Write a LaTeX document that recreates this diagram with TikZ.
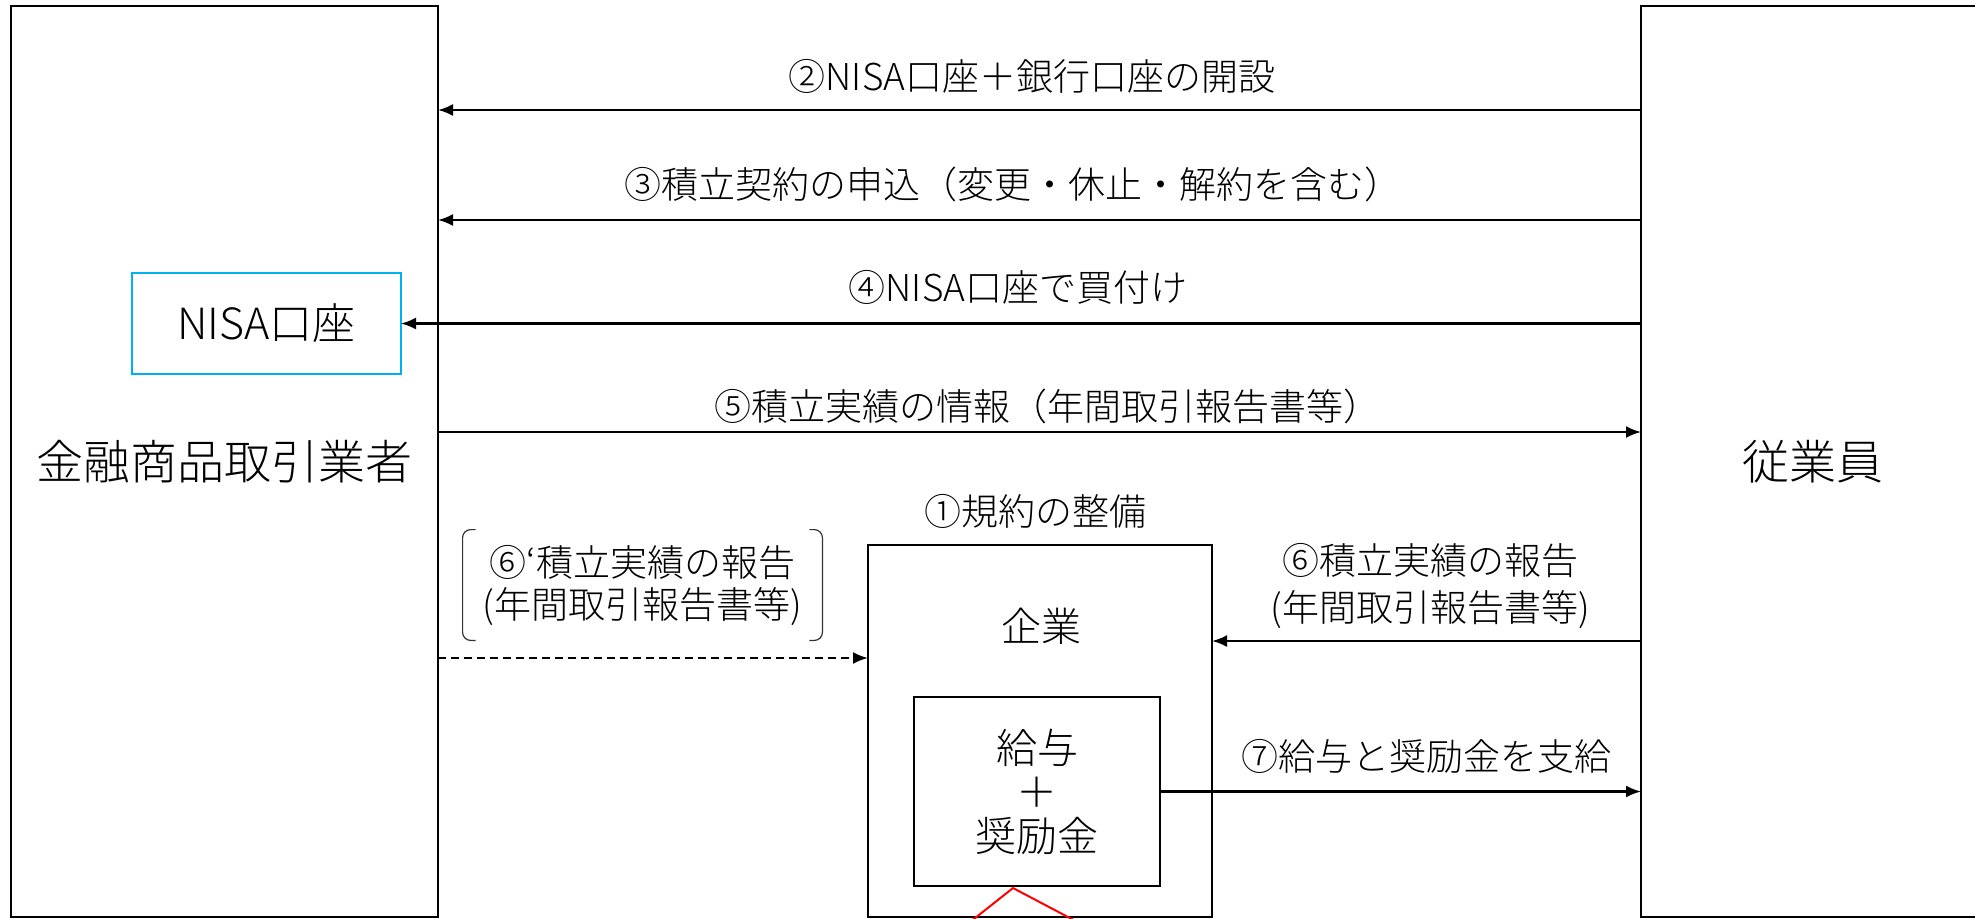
\documentclass[tikz,border=0pt]{standalone}
\usepackage{fontspec}
\setmainfont{Noto Sans CJK JP}[UprightFont=* Light]
\usetikzlibrary{arrows.meta,calc}
\definecolor{nisablue}{HTML}{00B0F0}
\tikzset{every picture/.style={x=0.5pt,y=-0.5pt}}
\tikzset{
  box/.style={draw=black, line width=1.1pt, inner sep=0pt, outer sep=0pt},
  arr/.style={line width=1.1pt, -{Latex[length=7.5pt,width=6pt]}},
  txt/.style={inner sep=0pt, font=\fontsize{18.5}{26}\selectfont, align=center},
  bigtxt/.style={inner sep=0pt, font=\fontsize{23.5}{28}\selectfont}
}
\begin{document}
\begin{tikzpicture}
\useasboundingbox (0,0) rectangle (1975,918);
% parties
\node[box, bigtxt, minimum width=213.5pt, minimum height=455.5pt] (fin) at (224.5,461.5) {金融商品取引業者};
\node[box, bigtxt, minimum width=172pt, minimum height=455.5pt] (emp) at (1813,461.5) {従業員};
\node[box, minimum width=172pt, minimum height=186pt] (firm) at (1040,731) {};
\node[box, minimum width=123pt, minimum height=94.5pt, font=\fontsize{20.5}{22}\selectfont, align=center] (pay) at (1037,791.5) {給与\\＋\\奨励金};
\node[box, draw=nisablue, minimum width=134.5pt, minimum height=50.5pt, font=\fontsize{21.5}{24}\selectfont] (nisa) at (266.5,323.5) {NISA口座};
% labels
\node[txt] (l2) at (1032,76) {②NISA口座＋銀行口座の開設};
\node[txt] (l3) at (1013,184) {③積立契約の申込（変更・休止・解約を含む）};
\node[txt] (l4) at (1018,287) {④NISA口座で買付け};
\node[txt] (l5) at (1047,406) {⑤積立実績の情報（年間取引報告書等）};
\node[txt] (l1) at (1035,511) {①規約の整備};
\node[txt, font=\fontsize{20}{24}\selectfont] (firmlbl) at (1041,626) {企業};
\node[txt, font=\fontsize{18.5}{23.5}\selectfont] (l6) at (1430,586) {⑥積立実績の報告\\(年間取引報告書等)};
\node[txt] (l7) at (1426,756) {⑦給与と奨励金を支給};
\node[txt, font=\fontsize{18.5}{21}\selectfont, minimum width=179.5pt, minimum height=55pt] (l6p) at (642.5,585) {⑥‘積立実績の報告\\(年間取引報告書等)};
\draw[black!80, line width=0.6pt, rounded corners=4pt] ($(l6p.north west)+(13,0)$) -- (l6p.north west) -- (l6p.south west) -- ($(l6p.south west)+(13,0)$);
\draw[black!80, line width=0.6pt, rounded corners=4pt] ($(l6p.north east)+(-13,0)$) -- (l6p.north east) -- (l6p.south east) -- ($(l6p.south east)+(-13,0)$);
% flows
\draw[arr] (emp.west |- 0,110) -- (fin.east |- 0,110);
\draw[arr] (emp.west |- 0,220) -- (fin.east |- 0,220);
\draw[arr] (emp.west |- nisa.east) -- (nisa.east);
\draw[arr] (fin.east |- 0,432) -- (emp.west |- 0,432);
\draw[arr] (emp.west |- 0,641) -- (firm.east |- 0,641);
\draw[arr] (pay.east) -- (emp.west |- pay.east);
\draw[arr, dashed, dash pattern=on 4pt off 2.5pt] (fin.east |- 0,658) -- (firm.west |- 0,658);
%\draw[red] (pay.south) -- ++(0,20);
\draw[red, line width=1pt] (941,945) -- (1013,888) -- (1121,945);
\end{tikzpicture}
\end{document}
